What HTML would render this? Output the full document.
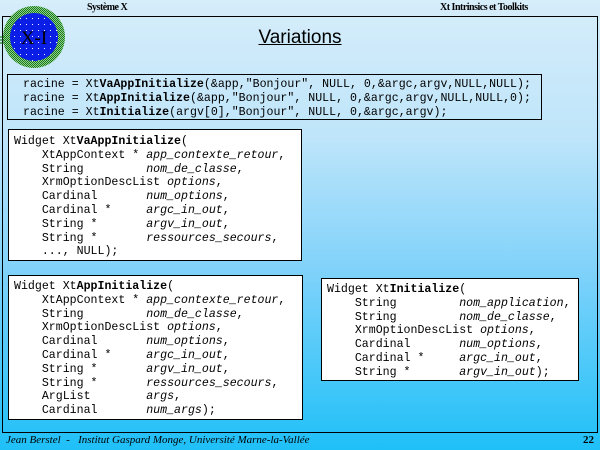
<!DOCTYPE html>
<html><head><meta charset="utf-8"><style>
*{margin:0;padding:0}
body{width:600px;height:450px;overflow:hidden;position:relative;background:linear-gradient(#d6edfa 0%,#bfe5fa 30%,#80d2fa 60%,#1fc0f8 100%);font-family:"Liberation Serif",serif}
.frame{position:absolute;left:2px;top:16px;width:594px;height:415px;border:1px solid #000;border-top:1.5px solid #000}
.box{position:absolute;border:1px solid #000;font-family:"Liberation Mono",monospace;font-size:11.6px;line-height:13.8px;white-space:pre;color:#000}
.w{background:#fff}
b{font-weight:bold}
i{font-style:italic}
.hdr{position:absolute;top:2px;font-size:10px;font-weight:bold;letter-spacing:-0.5px}
</style></head><body>
<div class="frame"></div>
<div class="hdr" style="left:87px">Système X</div>
<div class="hdr" style="left:440px">Xt Intrinsics et Toolkits</div>
<svg style="position:absolute;left:0;top:4px" width="70" height="66">
<defs><pattern id="g" width="2" height="2" patternUnits="userSpaceOnUse"><rect width="2" height="2" fill="#8fd08f"/><rect width="1" height="1" fill="#1a7a1a"/><rect x="1" y="1" width="1" height="1" fill="#1a7a1a"/></pattern>
<pattern id="b" width="6" height="6" patternUnits="userSpaceOnUse"><rect width="6" height="6" fill="#0a1ee6"/><rect x="2" y="2" width="1" height="1" fill="#fff"/></pattern></defs>
<ellipse cx="34" cy="33" rx="31" ry="31" fill="url(#g)"/>
<ellipse cx="34" cy="33" rx="24" ry="24" fill="url(#b)"/>
<line x1="0" y1="33" x2="4" y2="33" stroke="#060"/><line x1="0" y1="36" x2="4" y2="36" stroke="#060"/><line x1="0" y1="39" x2="4" y2="39" stroke="#060"/>
<text x="34" y="40" text-anchor="middle" font-family="Liberation Serif" font-size="19">X-I</text>
</svg>
<div style="position:absolute;left:0;width:600px;top:27px;text-align:center;font-family:'Liberation Sans',sans-serif;font-size:19px;text-decoration:underline">Variations</div>
<div class="box" style="left:7px;top:74px;width:535px;height:46px;padding-left:15px;box-sizing:border-box;padding-top:3px">racine = Xt<b>VaAppInitialize</b>(&amp;app,"Bonjour", NULL, 0,&amp;argc,argv,NULL,NULL);
racine = Xt<b>AppInitialize</b>(&amp;app,"Bonjour", NULL, 0,&amp;argc,argv,NULL,NULL,0);
racine = Xt<b>Initialize</b>(argv[0],"Bonjour", NULL, 0,&amp;argc,argv);</div>
<div class="box w" style="left:8px;top:129px;width:294px;height:132px;box-sizing:border-box;padding:5px 0 0 5px">Widget Xt<b>VaAppInitialize</b>(
    XtAppContext * <i>app_contexte_retour</i>,
    String         <i>nom_de_classe</i>,
    XrmOptionDescList <i>options</i>,
    Cardinal       <i>num_options</i>,
    Cardinal *     <i>argc_in_out</i>,
    String *       <i>argv_in_out</i>,
    String *       <i>ressources_secours</i>,
    ..., NULL);</div>
<div class="box w" style="left:8px;top:275px;width:295px;height:145px;box-sizing:border-box;padding:4px 0 0 5px">Widget Xt<b>AppInitialize</b>(
    XtAppContext * <i>app_contexte_retour</i>,
    String         <i>nom_de_classe</i>,
    XrmOptionDescList <i>options</i>,
    Cardinal       <i>num_options</i>,
    Cardinal *     <i>argc_in_out</i>,
    String *       <i>argv_in_out</i>,
    String *       <i>ressources_secours</i>,
    ArgList        <i>args</i>,
    Cardinal       <i>num_args</i>);</div>
<div class="box w" style="left:321px;top:278px;width:258px;height:103px;box-sizing:border-box;padding:4px 0 0 5px">Widget Xt<b>Initialize</b>(
    String         <i>nom_application</i>,
    String         <i>nom_de_classe</i>,
    XrmOptionDescList <i>options</i>,
    Cardinal       <i>num_options</i>,
    Cardinal *     <i>argc_in_out</i>,
    String *       <i>argv_in_out</i>);</div>
<div style="position:absolute;left:6px;top:434px;font-style:italic;font-size:11px;white-space:pre">Jean Berstel  -   Institut Gaspard Monge, Université Marne-la-Vallée</div>
<div style="position:absolute;left:583px;top:434px;font-weight:bold;font-size:11px">22</div>
</body></html>
